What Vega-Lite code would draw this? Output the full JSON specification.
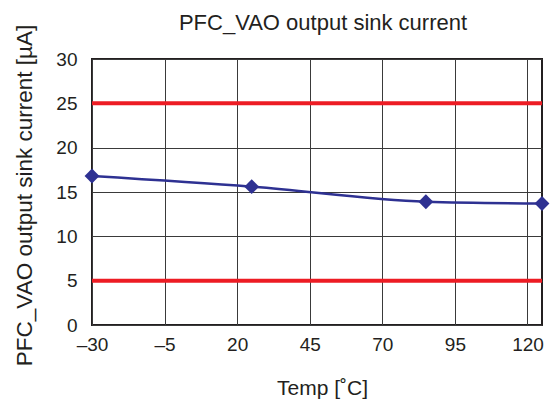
{
  "$schema": "https://vega.github.io/schema/vega-lite/v6.json",
  "width": 450,
  "height": 266,
  "autosize": {"type": "none"},
  "padding": {"left": 92, "top": 59, "right": 18, "bottom": 81},
  "background": "white",
  "title": {
    "text": "PFC_VAO output sink current",
    "font": "Liberation Sans",
    "fontSize": 22,
    "fontWeight": "normal",
    "color": "#231f20",
    "anchor": "middle",
    "frame": "group",
    "baseline": "alphabetic",
    "dx": 6,
    "offset": -28
  },
  "config": {
    "view": {"stroke": "#231f20", "strokeWidth": 2},
    "axis": {
      "labelFont": "Liberation Sans",
      "labelFontSize": 19,
      "labelColor": "#231f20",
      "labelFlush": false,
      "labelOverlap": false,
      "titleFont": "Liberation Sans",
      "titleFontWeight": "normal",
      "titleColor": "#231f20",
      "domain": false,
      "ticks": false,
      "gridColor": "#3a3a3a",
      "gridWidth": 1,
      "gridOpacity": 1
    }
  },
  "layer": [
    {
      "data": {"values": [{"limit": 5}, {"limit": 25}]},
      "mark": {"type": "rule", "color": "#ed1c24", "strokeWidth": 4},
      "encoding": {
        "y": {
          "field": "limit",
          "type": "quantitative",
          "scale": {"domain": [0, 30], "nice": false, "zero": false},
          "axis": {
            "values": [0, 5, 10, 15, 20, 25, 30],
            "labelPadding": 15,
            "title": "PFC_VAO output sink current [µA]",
            "titleFontSize": 22.5,
            "titleX": -68,
            "titleY": 136,
            "titleAngle": -90,
            "titleAlign": "center",
            "titleBaseline": "middle"
          }
        }
      }
    },
    {
      "data": {
        "values": [
          {"temp": -30, "current": 16.8},
          {"temp": 25, "current": 15.6},
          {"temp": 85, "current": 13.9},
          {"temp": 125, "current": 13.7}
        ]
      },
      "layer": [
        {
          "mark": {"type": "line", "color": "#2e3192", "strokeWidth": 2.5, "interpolate": "monotone"},
          "encoding": {
            "x": {
              "field": "temp",
              "type": "quantitative",
              "scale": {"domain": [-30, 125], "nice": false, "zero": false},
              "axis": {
                "values": [-30, -5, 20, 45, 70, 95, 120],
                "labelExpr": "replace(datum.label, '−', '–')",
                "labelPadding": 10,
                "title": "Temp [˚C]",
                "titleFontSize": 21,
                "titleX": 230,
                "titleY": 63,
                "titleBaseline": "middle",
                "titleAlign": "center"
              }
            },
            "y": {"field": "current", "type": "quantitative"}
          }
        },
        {
          "mark": {"type": "point", "shape": "diamond", "filled": true, "color": "#2e3192", "size": 220, "opacity": 1},
          "encoding": {
            "x": {"field": "temp", "type": "quantitative"},
            "y": {"field": "current", "type": "quantitative"}
          }
        }
      ]
    }
  ]
}
